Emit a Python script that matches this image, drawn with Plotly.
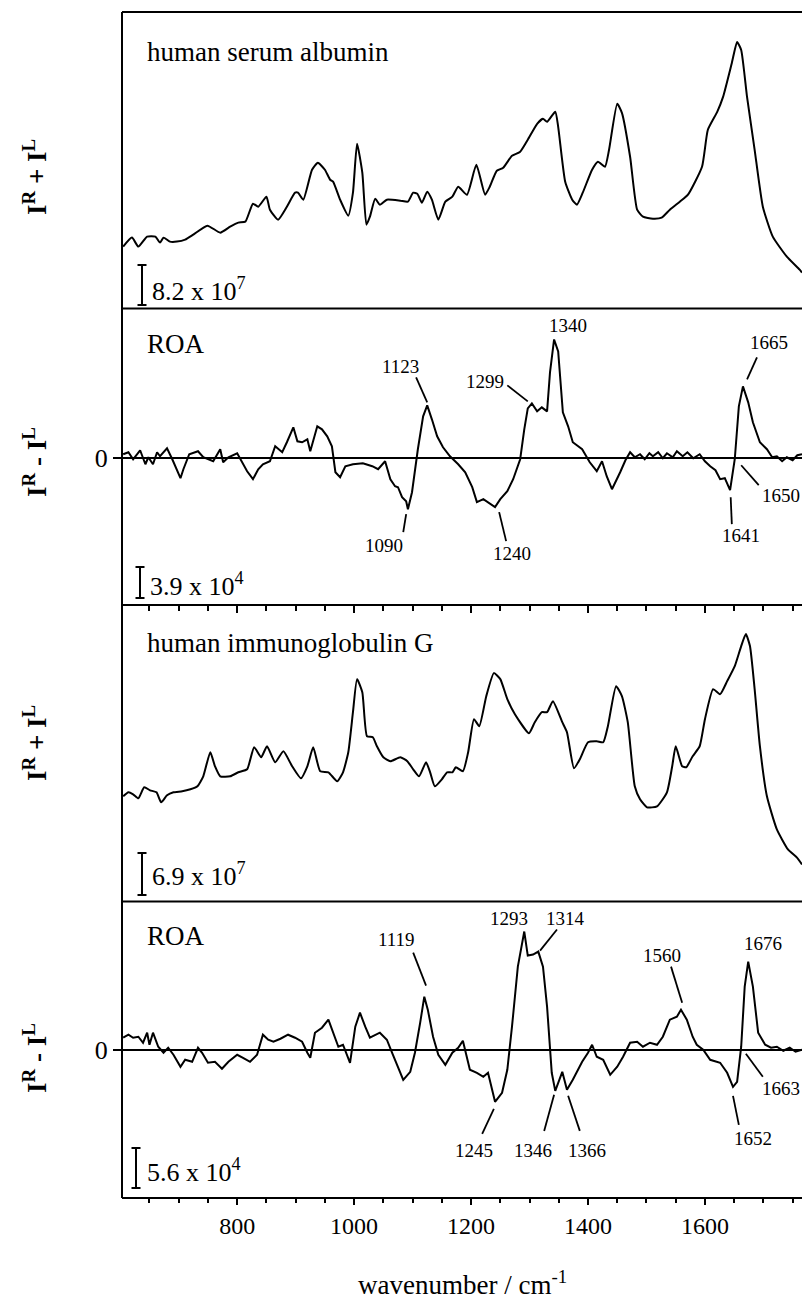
import plotly.graph_objects as go

# ---------------- data ----------------
# Panel 1: human serum albumin, Raman (I^R + I^L), arbitrary units
HSA_RAMAN_WN = [
    605, 620, 631, 646, 660, 668, 674, 685, 697, 711,
    725, 749, 771, 788, 802, 814, 827, 836, 850, 856,
    870, 885, 899, 904, 913, 928, 938, 950, 959, 964,
    976, 990, 998, 1005, 1014, 1021, 1027, 1036, 1044, 1056,
    1079, 1092, 1101, 1108, 1116, 1125, 1133, 1144, 1156, 1168,
    1178, 1193, 1209, 1224, 1232, 1244, 1255, 1270, 1284, 1297,
    1313, 1323, 1330, 1344, 1349, 1361, 1373, 1381, 1391, 1407,
    1417, 1429, 1436, 1450, 1458, 1472, 1484, 1494, 1511, 1526,
    1540, 1557, 1571, 1595, 1605, 1621, 1631, 1646, 1655, 1662,
    1672, 1685, 1699, 1716, 1740, 1762, 1766]
HSA_RAMAN = [
    62, 71, 62, 72, 72, 66, 71, 67, 67, 69,
    74, 83, 76, 82, 86, 87, 105, 102, 112, 99,
    89, 102, 116, 116, 109, 139, 146, 139, 129, 127,
    109, 93, 116, 165, 136, 84, 92, 110, 104, 109,
    108, 107, 116, 115, 106, 117, 109, 89, 107, 112,
    122, 114, 144, 114, 122, 138, 141, 153, 157, 169,
    185, 190, 187, 197, 182, 127, 109, 104, 116, 139,
    147, 142, 159, 205, 196, 152, 99, 92, 90, 91,
    99, 107, 114, 142, 179, 197, 212, 246, 267, 259,
    212, 159, 102, 72, 52, 39, 36]

# Panel 2: human serum albumin, ROA (I^R - I^L)
HSA_ROA_WN = [
    605, 614, 622, 634, 643, 648, 656, 663, 668, 680,
    689, 697, 703, 708, 718, 733, 742, 759, 771, 776,
    785, 800, 809, 817, 827, 836, 844, 856, 865, 877,
    885, 896, 903, 911, 920, 925, 937, 945, 954, 962,
    968, 976, 985, 998, 1015, 1031, 1041, 1053, 1062, 1070,
    1075, 1082, 1089, 1092, 1099, 1104, 1109, 1118, 1125, 1133,
    1142, 1152, 1164, 1178, 1190, 1202, 1210, 1221, 1229, 1241,
    1250, 1262, 1272, 1284, 1291, 1297, 1304, 1313, 1321, 1330,
    1335, 1342, 1349, 1357, 1366, 1374, 1390, 1403, 1415, 1424,
    1432, 1441, 1455, 1464, 1472, 1480, 1489, 1497, 1505, 1511,
    1520, 1528, 1535, 1545, 1552, 1562, 1570, 1580, 1591, 1600,
    1609, 1618, 1626, 1634, 1643, 1651, 1658, 1665, 1674, 1682,
    1694, 1706, 1715, 1723, 1732, 1740, 1750, 1758, 1766]
HSA_ROA = [
    4, 6, -1, 8, -6, 1, -6, 6, 2, 10,
    -1, -13, -20, -11, 4, 7, 1, -3, 9, -4,
    1, 5, -4, -13, -21, -11, -6, -3, 12, 6,
    16, 31, 17, 16, 19, 7, 32, 29, 22, 12,
    -14, -19, -8, -6, -5, -8, -11, -3, -21, -28,
    -29, -39, -43, -51, -34, -11, 9, 42, 53, 39,
    22, 11, 2, -6, -14, -29, -44, -41, -44, -49,
    -41, -33, -21, -1, 29, 50, 55, 47, 51, 47,
    86, 119, 107, 46, 32, 16, 9, -4, -13, -3,
    -18, -31, -14, -2, 6, 1, 4, -1, 5, 2,
    6, 0, 5, 1, 7, 2, 6, 0, 4, -3,
    -8, -12, -21, -20, -32, -1, 52, 72, 56, 36,
    16, 9, 1, 2, -3, 1, -2, 3, 4]

# Panel 3: human immunoglobulin G, Raman
IGG_RAMAN_WN = [
    605, 614, 622, 631, 641, 651, 662, 670, 680, 691,
    706, 720, 732, 742, 754, 762, 771, 788, 802, 817,
    829, 841, 851, 865, 879, 894, 909, 920, 930, 942,
    956, 971, 981, 990, 998, 1005, 1014, 1022, 1032, 1039,
    1050, 1062, 1079, 1091, 1101, 1111, 1123, 1130, 1138, 1150,
    1159, 1168, 1174, 1186, 1195, 1205, 1214, 1226, 1239, 1250,
    1262, 1275, 1299, 1309, 1321, 1330, 1340, 1356, 1364, 1376,
    1386, 1400, 1415, 1426, 1434, 1448, 1458, 1468, 1480, 1489,
    1501, 1518, 1535, 1544, 1550, 1561, 1568, 1579, 1591, 1600,
    1614, 1626, 1638, 1651, 1662, 1670, 1677, 1685, 1694, 1706,
    1723, 1742, 1757, 1766]
IGG_RAMAN = [
    105, 109, 107, 103, 114, 111, 109, 99, 106, 109,
    110, 112, 115, 125, 149, 135, 125, 125, 129, 132,
    154, 144, 155, 139, 150, 135, 123, 135, 154, 130,
    129, 120, 129, 149, 189, 222, 209, 165, 164, 155,
    144, 140, 144, 140, 132, 125, 139, 129, 115, 122,
    129, 129, 134, 130, 149, 182, 175, 205, 228, 222,
    202, 187, 168, 179, 189, 189, 200, 179, 169, 133,
    142, 159, 160, 159, 175, 215, 205, 179, 115, 102,
    94, 95, 109, 135, 155, 135, 134, 145, 155, 182,
    212, 207, 220, 235, 255, 267, 255, 212, 155, 105,
    72, 52, 44, 37]

# Panel 4: human immunoglobulin G, ROA
IGG_ROA_WN = [
    605, 614, 622, 631, 639, 646, 650, 656, 665, 674,
    682, 691, 703, 711, 723, 733, 740, 750, 762, 774,
    785, 800, 810, 822, 834, 844, 853, 862, 874, 887,
    899, 911, 920, 925, 933, 945, 956, 964, 973, 981,
    993, 1002, 1010, 1019, 1027, 1044, 1056, 1065, 1074, 1084,
    1096, 1104, 1113, 1120, 1126, 1135, 1144, 1156, 1168, 1178,
    1186, 1198, 1210, 1221, 1229, 1241, 1253, 1262, 1270, 1280,
    1291, 1297, 1306, 1315, 1323, 1330, 1338, 1344, 1356, 1364,
    1374, 1390, 1400, 1407, 1415, 1426, 1438, 1450, 1460, 1472,
    1484, 1494, 1506, 1518, 1528, 1540, 1552, 1559, 1569, 1579,
    1586, 1597, 1609, 1626, 1638, 1648, 1655, 1662, 1668, 1674,
    1682, 1691, 1703, 1713, 1723, 1734, 1745, 1755, 1766]
IGG_ROA = [
    12, 15, 12, 13, 7, 17, 5, 17, 3, -3,
    2, -5, -17, -10, -12, 2, -3, -13, -12, -19,
    -12, -5, -8, -12, -5, 15, 10, 8, 11, 15,
    12, 8, -3, -8, 17, 22, 30, 17, 3, 5,
    -13, 23, 37, 23, 12, 17, 10, -3, -15, -30,
    -22, -3, 27, 53, 40, 13, -5, -15, -3, 2,
    9, -20, -23, -27, -23, -52, -43, -20, 23, 83,
    118, 94, 95, 98, 83, 43, -23, -41, -22, -40,
    -30, -12, -3, 5, -7, -10, -25, -17, -7, 7,
    8, 3, 7, 5, 13, 30, 33, 40, 30, 13,
    5, 0, -10, -13, -23, -37, -32, 3, 63, 88,
    63, 17, 5, 2, 3, -1, 2, -2, 0]

PANEL_TITLES = ["human serum albumin", "ROA", "human immunoglobulin G", "ROA"]
SCALE_TEXTS = ["8.2 x 10<sup>7</sup>", "3.9 x 10<sup>4</sup>",
               "6.9 x 10<sup>7</sup>", "5.6 x 10<sup>4</sup>"]
Y_LABELS = ["I<sup>R</sup> + I<sup>L</sup>", "I<sup>R</sup> - I<sup>L</sup>",
            "I<sup>R</sup> + I<sup>L</sup>", "I<sup>R</sup> - I<sup>L</sup>"]
X_TICKS = [800, 1000, 1200, 1400, 1600]
X_TITLE = "wavenumber / cm<sup>-1</sup>"

# Band labels (text) for ROA panels
HSA_BANDS = ["1090", "1123", "1240", "1299", "1340", "1641", "1650", "1665"]
IGG_BANDS = ["1119", "1245", "1293", "1314", "1346", "1366", "1560", "1652", "1663", "1676"]

# ---------------- layout helpers (positions, styles) ----------------
FONT = "Liberation Serif, Times New Roman, serif"
W, H = 802, 1306
ML, MT, MB = 122, 12, 108
PH = H - MT - MB
XR = [603, 1766]
DOMAINS = [[0.75, 1.0], [0.5, 0.75], [0.25, 0.5], [0.0, 0.25]]
YRANGES = [[0, 297], [-147, 150], [0, 296], [-148, 148]]

def py(ypix):
    return (MT + PH - ypix) / PH

def px(xpix):
    return (xpix - ML) / (W - ML)

# label placement: (text x, text y, leader x0, y0, x1, y1) in data units; None = no leader
HSA_BAND_POS = {
    "1090": (1051, -87, (1089, -56, 1084, -74)),
    "1123": (1079, 92, (1106, 81, 1125, 56)),
    "1240": (1270, -95, (1248, -54, 1260, -83)),
    "1299": (1224, 77, (1262, 73, 1297, 57)),
    "1340": (1366, 133, None),
    "1641": (1662, -77, (1644, -39, 1646, -66)),
    "1650": (1730, -37, (1662, -7, 1692, -27)),
    "1665": (1709, 116, (1689, 101, 1672, 79)),
}
IGG_BAND_POS = {
    "1119": (1072, 110, (1101, 97, 1123, 64)),
    "1245": (1205, -101, (1239, -59, 1219, -84)),
    "1293": (1265, 131, None),
    "1314": (1361, 131, (1347, 120, 1318, 99)),
    "1346": (1306, -101, (1342, -45, 1325, -81)),
    "1366": (1398, -101, (1366, -46, 1386, -81)),
    "1560": (1527, 94, (1542, 83, 1561, 47)),
    "1652": (1682, -89, (1648, -46, 1658, -75)),
    "1663": (1730, -39, (1670, -4, 1699, -27)),
    "1676": (1699, 106, None),
}

TITLE_Y = [52, 344, 643, 936]
YLAB_Y = [177, 462, 743, 1058]
BAR_X = [142, 140, 142, 136]
BAR_Y = [(265, 305), (567, 598), (853, 895), (1148, 1188)]
SCALE_TXT_X = [150, 148, 150, 145]
SCALE_TXT_Y = [289, 584, 874, 1170]

fig = go.Figure()
# upper figure (HSA) uses its own x axis (x2) at the divider; lower figure (IgG) uses x
series = [(HSA_RAMAN_WN, HSA_RAMAN, "x2", "y", "spline"),
          (HSA_ROA_WN, HSA_ROA, "x2", "y2", "linear"),
          (IGG_RAMAN_WN, IGG_RAMAN, "x", "y3", "spline"),
          (IGG_ROA_WN, IGG_ROA, "x", "y4", "linear")]
for xs, ys, xa, ya, shp in series:
    fig.add_trace(go.Scatter(x=xs, y=ys, xaxis=xa, yaxis=ya, mode="lines",
                             line=dict(color="black", width=2, shape=shp, smoothing=0.5),
                             showlegend=False, hoverinfo="skip"))

shapes = []
# frame: left border and horizontal dividers
shapes.append(dict(type="line", xref="paper", yref="paper", x0=0, x1=0, y0=0, y1=1,
                   line=dict(color="black", width=2)))
for yv in [0, 0.25, 0.5, 0.75, 1.0]:
    shapes.append(dict(type="line", xref="paper", yref="paper", x0=0, x1=1, y0=yv, y1=yv,
                       line=dict(color="black", width=2)))
# scale bars
for bx, (b0, b1) in zip(BAR_X, BAR_Y):
    xc = px(bx)
    dx = 4.5 / (W - ML)
    shapes.append(dict(type="line", xref="paper", yref="paper", x0=xc, x1=xc,
                       y0=py(b0), y1=py(b1), line=dict(color="black", width=2)))
    for bb in (b0, b1):
        shapes.append(dict(type="line", xref="paper", yref="paper", x0=xc - dx, x1=xc + dx,
                           y0=py(bb), y1=py(bb), line=dict(color="black", width=2)))

annotations = []
for t, ty in zip(PANEL_TITLES, TITLE_Y):
    annotations.append(dict(text=t, xref="paper", yref="paper", x=px(145), y=py(ty),
                            xanchor="left", yanchor="middle", showarrow=False,
                            font=dict(family=FONT, size=27, color="black")))
for t, tx, ty in zip(SCALE_TEXTS, SCALE_TXT_X, SCALE_TXT_Y):
    annotations.append(dict(text=t, xref="paper", yref="paper", x=px(tx), y=py(ty),
                            xanchor="left", yanchor="middle", showarrow=False,
                            font=dict(family=FONT, size=26, color="black")))
for t, ty in zip(Y_LABELS, YLAB_Y):
    annotations.append(dict(text="<b>" + t + "</b>", xref="paper", yref="paper", x=px(35), y=py(ty),
                            xanchor="center", yanchor="middle", textangle=-90, showarrow=False,
                            font=dict(family=FONT, size=27, color="black")))
annotations.append(dict(text=X_TITLE, xref="paper", yref="paper", x=0.5, y=py(1302),
                        xanchor="center", yanchor="bottom", showarrow=False,
                        font=dict(family=FONT, size=27, color="black")))

for bands, pos, xa, ya in [(HSA_BANDS, HSA_BAND_POS, "x2", "y2"),
                           (IGG_BANDS, IGG_BAND_POS, "x", "y4")]:
    for b in bands:
        tx, ty, ld = pos[b]
        annotations.append(dict(text=b, xref=xa, yref=ya, x=tx, y=ty, showarrow=False,
                                xanchor="center", yanchor="middle",
                                font=dict(family=FONT, size=19, color="black")))
        if ld is not None:
            shapes.append(dict(type="line", xref=xa, yref=ya, x0=ld[0], y0=ld[1],
                               x1=ld[2], y1=ld[3], line=dict(color="black", width=1.8)))

tick_common = dict(range=XR, tickvals=X_TICKS, tickwidth=1.5, tickcolor="black",
                   showgrid=False, zeroline=False, showline=False, fixedrange=True)
layout = dict(
    width=W, height=H, margin=dict(l=ML, r=0, t=MT, b=MB, pad=0),
    paper_bgcolor="white", plot_bgcolor="white", showlegend=False,
    font=dict(family=FONT, color="black"),
    shapes=shapes, annotations=annotations,
    xaxis=dict(anchor="y4", domain=[0, 1], ticks="outside", ticklen=6,
               minor=dict(dtick=50, tick0=0, ticks="outside", ticklen=4, tickwidth=1.5,
                          tickcolor="black", showgrid=False),
               tickfont=dict(family=FONT, size=24, color="black"), **tick_common),
    xaxis2=dict(anchor="y2", domain=[0, 1], ticks="outside", ticklen=7,
                minor=dict(dtick=50, tick0=0, ticks="outside", ticklen=5, tickwidth=1.5,
                           tickcolor="black", showgrid=False),
                showticklabels=False, **tick_common),
)
for i, (dom, rng) in enumerate(zip(DOMAINS, YRANGES)):
    name = "yaxis" if i == 0 else f"yaxis{i + 1}"
    ax = dict(anchor="x2" if i < 2 else "x", domain=dom, range=rng, showgrid=False,
              showline=False, fixedrange=True)
    if i in (1, 3):
        ax.update(tickvals=[0], ticktext=["0"], ticks="outside", ticklen=8, tickwidth=1.5,
                  tickcolor="black", zeroline=True, zerolinecolor="black", zerolinewidth=1.5,
                  tickfont=dict(family=FONT, size=26, color="black"))
    else:
        ax.update(showticklabels=False, ticks="", zeroline=False)
    layout[name] = ax

fig.update_layout(**layout)
fig.write_html("out.html")
